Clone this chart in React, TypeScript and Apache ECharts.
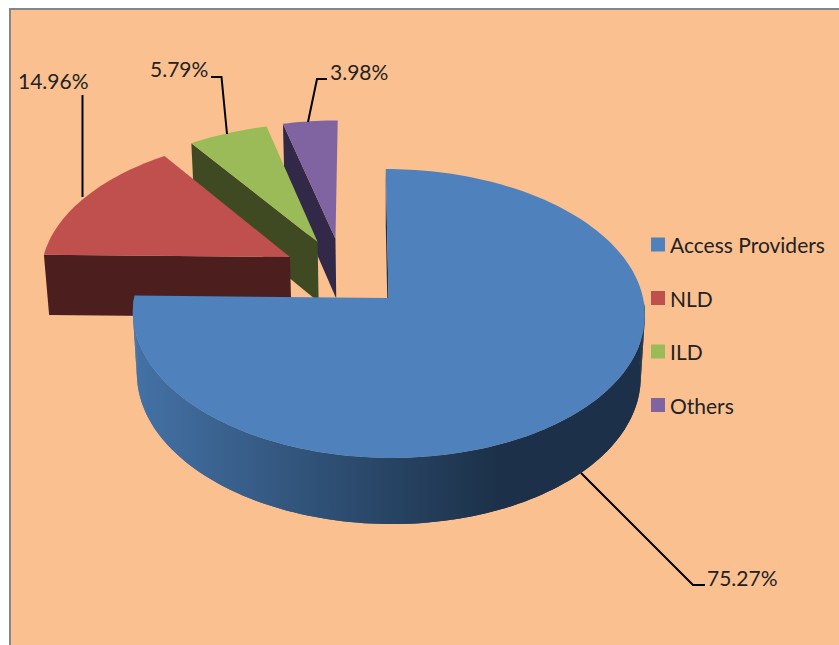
import React, { useEffect, useRef } from "react";
import * as echarts from "echarts";

const categories = ["Access Providers", "NLD", "ILD", "Others"];
const shares = [75.27, 14.96, 5.79, 3.98];

// Layout tables: slice displacement on the pie's plane, colours, callouts
const explode = [[0.006, 0], [-0.39, 0.296], [-0.28, 0.409], [-0.207, 0.435]];
const topColors = ["#4F81BD", "#C0504D", "#9BBB59", "#8064A2"];
const cutColors = ["#1C3149", "#4D1E1E", "#3F4A22", "#322848"];
const leaders = [
  [[581, 473], [693, 585], [705, 585]],
  [[82.5, 95], [82.5, 197]],
  [[211, 77], [221.5, 77], [227, 134]],
  [[327, 79], [317, 79], [308, 122]],
];
const labelAnchors = [[707, 577], [18, 80], [150, 68], [330, 71]];
const FONT = "Lato";

// Perspective projection of the pie's plane (u right, v back, h down)
const P = { cx: 387, cy: 298, R: 254.5, S: 142.8, Sx: -2.9, k: 0.1073, m: 0.016, D: 62.6 };
function project(u: number, v: number, h: number): number[] {
  const w = 1 + P.k * v + P.m * h;
  return [P.cx + (P.R * u + P.Sx * v) / w, P.cy + (-P.S * v + P.D * h) / w];
}

function renderSlice(index: number) {
  return (_params: any, api: any) => {
    const value = api.value(0);
    const total = shares.reduce((a, b) => a + b, 0);
    const before = shares.slice(0, index).reduce((a, b) => a + b, 0);
    const a0 = (before / total) * Math.PI * 2;
    const a1 = ((before + value) / total) * Math.PI * 2;
    const [ou, ov] = explode[index];
    const steps = Math.max(4, Math.ceil((a1 - a0) / (Math.PI / 120)));
    const angles: number[] = [];
    for (let i = 0; i <= steps; i++) angles.push(a0 + ((a1 - a0) * i) / steps);
    const rim = (list: number[], h: number) =>
      list.map((a) => project(ou + Math.sin(a), ov + Math.cos(a), h));
    const top = rim(angles, 0);
    const apex0 = project(ou, ov, 0);
    const apex1 = project(ou, ov, 1);
    const poly = (points: number[][], fill: any) => ({
      type: "polygon",
      shape: { points },
      style: { fill },
    });

    // Only the part of the rim that faces the viewer gets an outer wall
    const front = angles.filter((a) => Math.cos(a) < 0);
    const wall: any[] = [];
    if (front.length > 1) {
      const xs = top.map((p) => p[0]);
      const fill = new echarts.graphic.LinearGradient(
        Math.min(...xs),
        0,
        Math.max(...xs),
        0,
        [
          { offset: 0, color: "#4472A6" },
          { offset: 0.71, color: "#1C3149" },
          { offset: 1, color: "#1C3149" },
        ],
        true
      );
      const t = rim(front, 0);
      const b = rim(front, 1);
      wall.push(poly([...t, ...b.slice().reverse()], fill));
      for (let i = 0; i + 1 < t.length; i++) {
        wall.push(poly([t[i], t[i + 1], b[i + 1], b[i]], fill));
      }
    }
    const startBottom = project(ou + Math.sin(a0), ov + Math.cos(a0), 1);
    const [lx, ly] = labelAnchors[index];
    return {
      type: "group",
      children: [
        poly([top[0], apex0, apex1, startBottom], cutColors[index]),
        ...wall,
        poly([apex0, ...top], topColors[index]),
        {
          type: "polyline",
          shape: { points: leaders[index] },
          style: { stroke: "#000000", lineWidth: 2, fill: "none" },
        },
        {
          type: "text",
          x: lx,
          y: ly,
          style: {
            text: value.toFixed(2) + "%",
            fill: "#222222",
            fontFamily: FONT,
            fontSize: 21,
            align: "left",
            verticalAlign: "middle",
          },
        },
      ],
    };
  };
}

export default function App() {
  const ref = useRef<HTMLDivElement>(null);
  useEffect(() => {
    const chart = echarts.init(ref.current!, null, { renderer: "svg" });
    const order = [3, 2, 1, 0];
    chart.setOption({
      animation: false,
      backgroundColor: "#FFFFFF",
      graphic: [
        {
          type: "rect",
          z: 0,
          silent: true,
          shape: { x: 10, y: 9, width: 840, height: 650 },
          style: { fill: "#FAC090", stroke: "#868686", lineWidth: 2 },
        },
      ],
      legend: {
        orient: "vertical",
        left: 646,
        top: 229,
        data: categories,
        icon: "rect",
        itemWidth: 14,
        itemHeight: 14,
        itemGap: 32.5,
        selectedMode: false,
        textStyle: { color: "#222222", fontFamily: FONT, fontSize: 21, lineHeight: 20 },
      },
      series: order.map((i) => ({
        type: "custom",
        name: categories[i],
        coordinateSystem: "none",
        silent: true,
        itemStyle: { color: topColors[i] },
        data: [[shares[i]]],
        renderItem: renderSlice(i),
      })),
    });
    return () => chart.dispose();
  }, []);
  return (
    <div
      ref={ref}
      style={{ position: "fixed", left: 0, top: 0, width: 839, height: 645 }}
    />
  );
}
